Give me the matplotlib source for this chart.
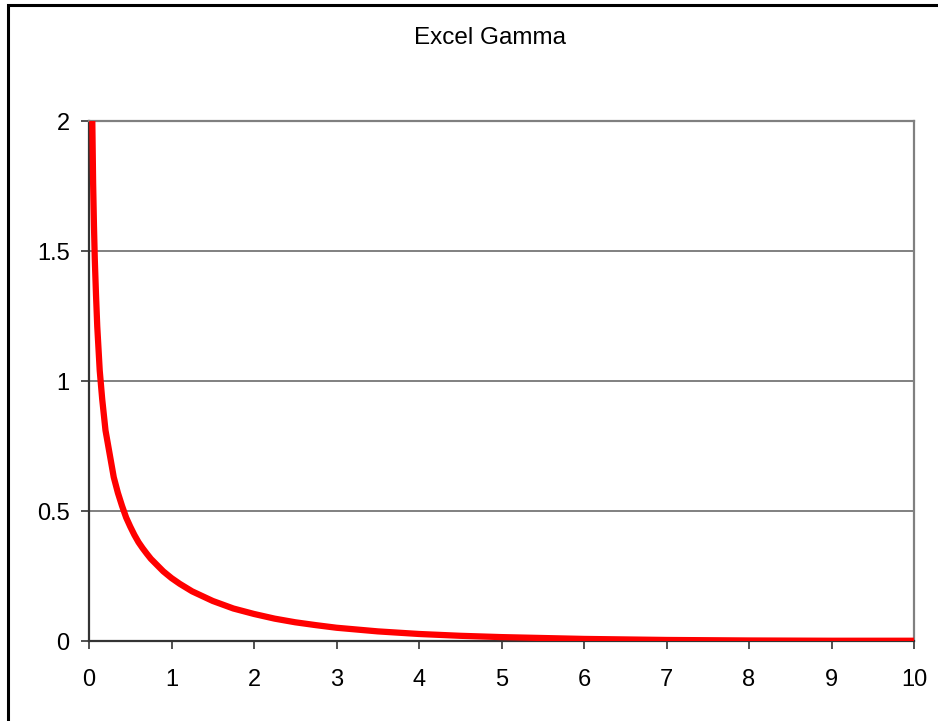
import matplotlib
matplotlib.use("Agg")
import matplotlib.pyplot as plt
from matplotlib.patches import Rectangle

plt.rcParams["font.family"] = ["Liberation Sans", "DejaVu Sans"]

# Values.
x = [0.04, 0.05, 0.06, 0.07, 0.085, 0.1, 0.13, 0.16, 0.2, 0.25, 0.3, 0.35, 0.4,
     0.45, 0.5, 0.55, 0.6, 0.65, 0.7, 0.75, 0.8, 0.9, 1.0, 1.1, 1.25, 1.5, 1.75,
     2.0, 2.25, 2.5, 2.75, 3.0, 3.5, 4.0, 4.5, 5.0, 6.0, 7.0, 8.0, 9.0, 10.0]
y = [2.0, 1.76, 1.60, 1.47, 1.33, 1.21, 1.04, 0.93, 0.81, 0.72, 0.63, 0.57, 0.52,
     0.475, 0.44, 0.408, 0.38, 0.357, 0.336, 0.316, 0.30, 0.268, 0.242, 0.22, 0.191, 0.154, 0.125,
     0.104, 0.086, 0.072, 0.061, 0.051, 0.037, 0.027, 0.02, 0.015, 0.008, 0.004, 0.002, 0.001, 0.001]

xticks = list(range(0, 11))
yticks = [0, 0.5, 1, 1.5, 2]
ylabels = ["0", "0.5", "1", "1.5", "2"]

fig = plt.figure(figsize=(9.38, 7.21), dpi=100)
ax = fig.add_axes([89 / 938, 1 - 641 / 721, 825 / 938, 520 / 721])

# Outer chart frame (cut off at right and bottom).
fig.patches.append(Rectangle((8 / 938, -0.1), 1.2, 1 - 5 / 721 + 0.1,
                             transform=fig.transFigure, fill=False,
                             edgecolor="black", linewidth=2.2))

ax.plot(x, y, color="#ff0000", linewidth=4.5, solid_joinstyle="round", zorder=3)

ax.set_xlim(0, 10)
ax.set_ylim(0, 2)
ax.set_xticks(xticks)
ax.set_yticks(yticks)
ax.set_yticklabels(ylabels)
ax.grid(axis="y", color="#808080", linewidth=1.4)
ax.set_axisbelow(True)

for s in ["top", "right"]:
    ax.spines[s].set_color("#808080")
    ax.spines[s].set_linewidth(1.6)
for s in ["left", "bottom"]:
    ax.spines[s].set_color("#333333")
    ax.spines[s].set_linewidth(1.6)

ax.tick_params(axis="both", direction="out", length=6, width=1.2,
               color="#333333", labelsize=17)
ax.tick_params(axis="x", pad=14)
ax.tick_params(axis="y", pad=8)

fig.text(490 / 938, 1 - 38 / 721, "Excel Gamma", ha="center", va="center",
         fontsize=17.5)

fig.savefig("out.png", dpi=100)
